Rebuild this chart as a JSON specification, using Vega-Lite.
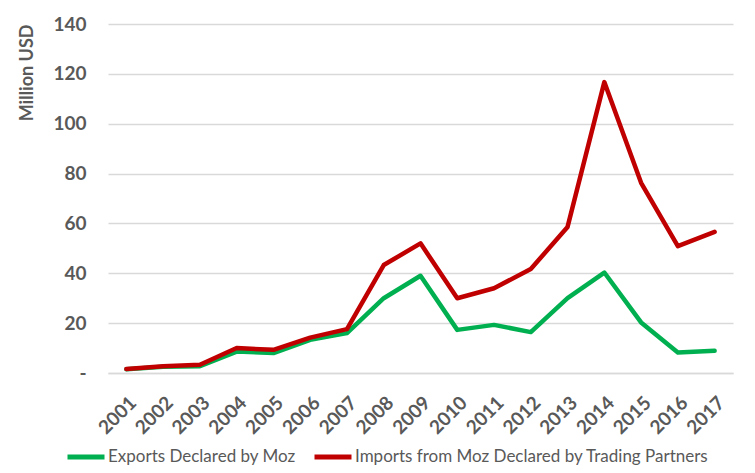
{
  "$schema": "https://vega.github.io/schema/vega-lite/v6.json",
  "autosize": {"type": "none"},
  "padding": {"left": 108, "top": 24, "right": 22, "bottom": 100},
  "width": 625,
  "height": 349,
  "background": "white",
  "config": {
    "font": "Lato",
    "view": {"stroke": null}
  },
  "data": {
    "values": [
      {"year": "2001", "series": "Exports Declared by Moz", "value": 1.5},
      {"year": "2002", "series": "Exports Declared by Moz", "value": 2.5},
      {"year": "2003", "series": "Exports Declared by Moz", "value": 2.7},
      {"year": "2004", "series": "Exports Declared by Moz", "value": 8.6},
      {"year": "2005", "series": "Exports Declared by Moz", "value": 8.0},
      {"year": "2006", "series": "Exports Declared by Moz", "value": 13.3},
      {"year": "2007", "series": "Exports Declared by Moz", "value": 16.0},
      {"year": "2008", "series": "Exports Declared by Moz", "value": 30.0},
      {"year": "2009", "series": "Exports Declared by Moz", "value": 39.0},
      {"year": "2010", "series": "Exports Declared by Moz", "value": 17.3},
      {"year": "2011", "series": "Exports Declared by Moz", "value": 19.3},
      {"year": "2012", "series": "Exports Declared by Moz", "value": 16.4},
      {"year": "2013", "series": "Exports Declared by Moz", "value": 30.0},
      {"year": "2014", "series": "Exports Declared by Moz", "value": 40.3},
      {"year": "2015", "series": "Exports Declared by Moz", "value": 20.3},
      {"year": "2016", "series": "Exports Declared by Moz", "value": 8.2},
      {"year": "2017", "series": "Exports Declared by Moz", "value": 8.9},
      {"year": "2001", "series": "Imports from Moz Declared by Trading Partners", "value": 1.6},
      {"year": "2002", "series": "Imports from Moz Declared by Trading Partners", "value": 2.7},
      {"year": "2003", "series": "Imports from Moz Declared by Trading Partners", "value": 3.3},
      {"year": "2004", "series": "Imports from Moz Declared by Trading Partners", "value": 10.0},
      {"year": "2005", "series": "Imports from Moz Declared by Trading Partners", "value": 9.3},
      {"year": "2006", "series": "Imports from Moz Declared by Trading Partners", "value": 14.2},
      {"year": "2007", "series": "Imports from Moz Declared by Trading Partners", "value": 17.6},
      {"year": "2008", "series": "Imports from Moz Declared by Trading Partners", "value": 43.3},
      {"year": "2009", "series": "Imports from Moz Declared by Trading Partners", "value": 52.0},
      {"year": "2010", "series": "Imports from Moz Declared by Trading Partners", "value": 30.0},
      {"year": "2011", "series": "Imports from Moz Declared by Trading Partners", "value": 34.0},
      {"year": "2012", "series": "Imports from Moz Declared by Trading Partners", "value": 41.7},
      {"year": "2013", "series": "Imports from Moz Declared by Trading Partners", "value": 58.6},
      {"year": "2014", "series": "Imports from Moz Declared by Trading Partners", "value": 116.7},
      {"year": "2015", "series": "Imports from Moz Declared by Trading Partners", "value": 76.3},
      {"year": "2016", "series": "Imports from Moz Declared by Trading Partners", "value": 50.9},
      {"year": "2017", "series": "Imports from Moz Declared by Trading Partners", "value": 56.6}
    ]
  },
  "mark": {"type": "line", "strokeWidth": 4.5, "strokeJoin": "round", "strokeCap": "round"},
  "encoding": {
    "x": {
      "field": "year",
      "type": "ordinal",
      "scale": {"type": "point", "padding": 0.5},
      "axis": {
        "title": null,
        "labelAngle": -45,
        "labelFont": "Lato",
        "labelFontSize": 19,
        "labelFontWeight": "bold",
        "labelColor": "#595959",
        "labelPadding": 20,
        "ticks": false,
        "domain": true,
        "domainColor": "#D9D9D9",
        "domainWidth": 1.5,
        "grid": false
      }
    },
    "y": {
      "field": "value",
      "type": "quantitative",
      "scale": {"domain": [0, 140], "nice": false},
      "axis": {
        "title": "Million USD",
        "titleFont": "Lato",
        "titleFontSize": 18,
        "titleFontWeight": "bold",
        "titleColor": "#595959",
        "titleAnchor": "end",
        "titlePadding": 16,
        "values": [0, 20, 40, 60, 80, 100, 120, 140],
        "labelExpr": "datum.value == 0 ? '-\u00a0\u00a0\u00a0' : datum.label",
        "labelFont": "Lato",
        "labelFontSize": 19,
        "labelFontWeight": "bold",
        "labelColor": "#595959",
        "labelPadding": 22,
        "ticks": false,
        "domain": false,
        "grid": true,
        "gridColor": "#D9D9D9",
        "gridWidth": 1.5
      }
    },
    "color": {
      "field": "series",
      "type": "nominal",
      "scale": {
        "domain": ["Exports Declared by Moz", "Imports from Moz Declared by Trading Partners"],
        "range": ["#00B050", "#C00000"]
      },
      "legend": {
        "title": null,
        "orient": "none",
        "direction": "horizontal",
        "legendX": -43,
        "legendY": 412,
        "symbolType": "stroke",
        "symbolSize": 1369,
        "symbolStrokeWidth": 5,
        "labelFont": "Lato",
        "labelFontSize": 17,
        "labelColor": "#595959",
        "labelOffset": 1,
        "labelLimit": 0,
        "columnPadding": 8
      }
    }
  }
}
